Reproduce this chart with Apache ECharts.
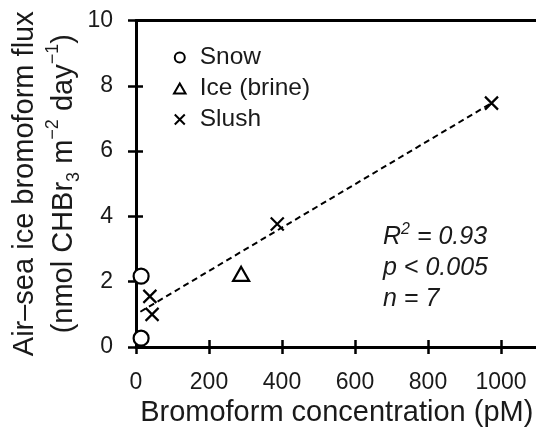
<!DOCTYPE html>
<html>
<head>
<meta charset="utf-8">
<script src="https://cdn.jsdelivr.net/npm/echarts@6/dist/echarts.min.js"></script>
<style>
html,body{margin:0;padding:0;background:#fff;}
#chart{width:536px;height:441px;}
</style>
</head>
<body>
<div id="chart"></div>
<script>
// Data
var snowX = [14, 14];
var snowY = [2.17, 0.27];
var iceX = [288];
var iceY = [2.24];
var slushX = [38, 44, 387, 974];
var slushY = [1.55, 1.0, 3.77, 7.47];
var fitX = [12, 974];
var fitY = [1.08, 7.47];
var xTicks = [0, 200, 400, 600, 800, 1000];
var yTicks = [0, 2, 4, 6, 8, 10];
var statsLines = ['{i|R}{sup|2}{i| = 0.93}', '{i|p < 0.005}', '{i|n = 7}'];

function pairs(xs, ys) { return xs.map(function (x, i) { return [x, ys[i]]; }); }

var FONT = 'Liberation Sans';
var INK = '#1a1a1a';
var chart = echarts.init(document.getElementById('chart'), null, {renderer: 'canvas'});

var crossPath = 'path://M0,0L10,10M10,0L0,10';
var triPath = 'path://M5,0L10,8.66L0,8.66Z';

var baseX = {
  type: 'value', min: 0, max: 1100, interval: 200,
  splitLine: {show: false}
};
var baseY = {
  type: 'value', min: 0, max: 10, interval: 2,
  splitLine: {show: false}
};

var option = {
  backgroundColor: '#fff',
  animation: false,
  textStyle: {fontFamily: FONT},
  grid: {left: 136, top: 20.5, right: -1.5, bottom: 94, outerBoundsMode: 'none'},
  legend: {
    orient: 'vertical', left: 168, top: 40,
    itemWidth: 30, itemHeight: 10, itemGap: 6,
    symbolKeepAspect: true,
    data: [
      {name: 'Snow', icon: 'circle'},
      {name: 'Ice (brine)', icon: triPath},
      {name: 'Slush', icon: crossPath}
    ],
    itemStyle: {color: '#fff', borderColor: '#000', borderWidth: 2},
    textStyle: {fontFamily: FONT, fontSize: 24.5, color: INK},
    selectedMode: false
  },
  xAxis: [
    Object.assign({}, baseX, {
      position: 'bottom',
      name: 'Bromoform concentration (pM)',
      nameLocation: 'middle', nameGap: 51, nameMoveOverlap: false,
      nameTextStyle: {fontFamily: FONT, fontSize: 29, color: INK},
      axisLine: {show: true, onZero: false, lineStyle: {color: '#000', width: 3}},
      axisTick: {show: true, inside: false, length: 7, lineStyle: {color: '#000', width: 2.5}},
      axisLabel: {show: true, margin: 24, fontSize: 23, color: INK, fontFamily: FONT,
        showMaxLabel: false,
        formatter: function (v) { return xTicks.indexOf(v) >= 0 ? String(v) : ''; }}
    }),
    Object.assign({}, baseX, {
      position: 'bottom',
      axisLine: {show: false, onZero: false},
      axisTick: {show: true, inside: true, length: 7, lineStyle: {color: '#000', width: 2.5}},
      axisLabel: {show: false}
    }),
    Object.assign({}, baseX, {
      position: 'top',
      axisLine: {show: true, onZero: false, lineStyle: {color: '#000', width: 3}},
      axisTick: {show: false},
      axisLabel: {show: false}
    })
  ],
  yAxis: [
    Object.assign({}, baseY, {
      position: 'left',
      name: '{a|Air\u2013sea ice bromoform flux}\n{a|(nmol CHBr}{sub|3}{a| m}{sup|\u22122}{a| day}{sup|\u22121}{a|)}',
      nameLocation: 'middle', nameRotate: 90, nameGap: 53, nameMoveOverlap: false,
      nameTextStyle: {
        fontFamily: FONT, color: INK, lineHeight: 39,
        rich: {
          a: {fontFamily: FONT, fontSize: 29, color: INK, lineHeight: 39},
          sub: {fontFamily: FONT, fontSize: 18, color: INK, lineHeight: 39, verticalAlign: 'bottom'},
          sup: {fontFamily: FONT, fontSize: 18, color: INK, lineHeight: 39, verticalAlign: 'top'}
        }
      },
      axisLine: {show: true, onZero: false, lineStyle: {color: '#000', width: 3}},
      axisTick: {show: true, inside: false, length: 8, lineStyle: {color: '#000', width: 2.5}},
      axisLabel: {show: true, margin: 23, fontSize: 23, color: INK, fontFamily: FONT,
        formatter: function (v) { return yTicks.indexOf(v) >= 0 ? String(v) : ''; }}
    }),
    Object.assign({}, baseY, {
      position: 'left',
      axisLine: {show: false, onZero: false},
      axisTick: {show: true, inside: true, length: 7, lineStyle: {color: '#000', width: 2.5}},
      axisLabel: {show: false}
    })
  ],
  graphic: [{
    type: 'text', left: 383, top: 222,
    style: {
      text: statsLines.join('\n'),
      fontFamily: FONT, fontSize: 25, lineHeight: 31, fill: INK,
      rich: {
        i: {fontFamily: FONT, fontSize: 25, fontStyle: 'italic', lineHeight: 31, fill: INK, color: INK},
        sup: {fontFamily: FONT, fontSize: 16, fontStyle: 'italic', lineHeight: 31, verticalAlign: 'top', fill: INK, color: INK}
      }
    }
  }],
  series: [
    {
      name: 'fit', type: 'line', xAxisIndex: 0, yAxisIndex: 0,
      data: pairs(fitX, fitY), symbol: 'none', z: 1,
      lineStyle: {color: '#000', width: 2, type: [6, 4]},
      silent: true
    },
    {
      name: 'Snow', type: 'scatter', data: pairs(snowX, snowY), z: 3,
      symbol: 'circle', symbolSize: 15,
      itemStyle: {color: '#fff', borderColor: '#000', borderWidth: 2.2, opacity: 1}
    },
    {
      name: 'Ice (brine)', type: 'scatter', data: pairs(iceX, iceY), z: 3,
      symbol: 'triangle', symbolSize: [16, 14],
      itemStyle: {color: '#fff', borderColor: '#000', borderWidth: 2.2, opacity: 1}
    },
    {
      name: 'Slush', type: 'scatter', data: pairs(slushX, slushY), z: 3,
      symbol: crossPath, symbolSize: 13,
      itemStyle: {color: '#fff', borderColor: '#000', borderWidth: 2.2, opacity: 1}
    }
  ]
};
chart.setOption(option);
</script>
</body>
</html>
